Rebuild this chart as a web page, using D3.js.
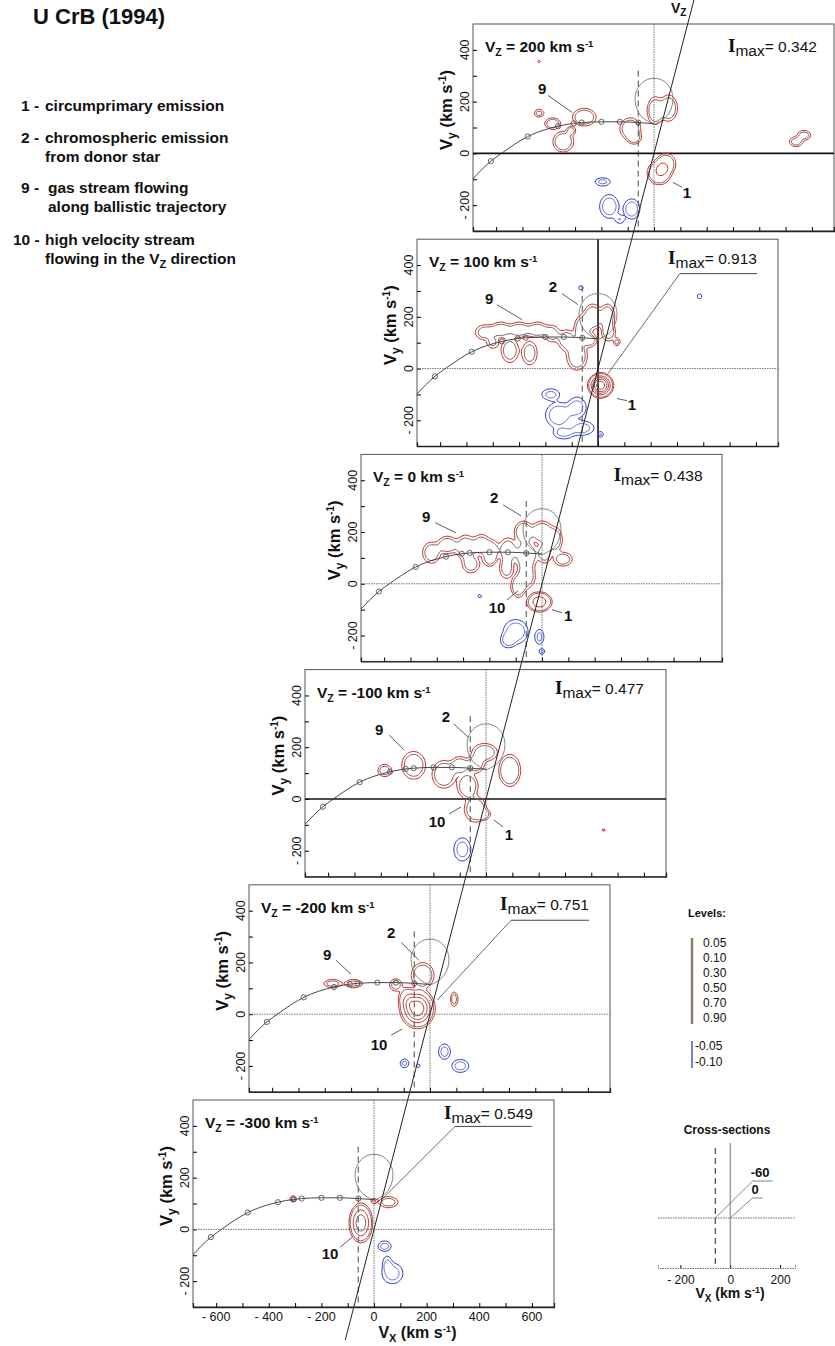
<!DOCTYPE html>
<html>
<head>
<meta charset="utf-8">
<script src="https://cdn.jsdelivr.net/npm/d3@7"></script>
<style>
body { margin: 0; background: #fff; }
svg text { font-family: "Liberation Sans", Arial, sans-serif; fill: #111; }
</style>
</head>
<body>
<svg id="fig" width="835" height="1346"></svg>
<script>
// one panel per Vz slice, top to bottom
var panelVz = ["200", "100", "0", "-100", "-200", "-300"];
var panelImax = ["0.342", "0.913", "0.438", "0.477", "0.751", "0.549"];

var xTickValues = [-600, -500, -400, -300, -200, -100, 0, 100, 200, 300, 400, 500, 600];
var xTickLabels = [-600, -400, -200, 0, 200, 400, 600];
var yTickValues = [-200, -100, 0, 100, 200, 300, 400];
var yTickLabels = [-200, 0, 200, 400];

// ballistic trajectory of the stream (km/s)
var streamVx = [-690, -620, -580, -480, -365, -305, -275, -200, -130, -60, 0];
var streamVy = [-100, -30, 0, 65, 105, 116, 119, 122, 122, 119, 115];
var streamDotsVx = [-620, -480, -365, -305, -275, -200, -130, -60];
var streamDotsVy = [-30, 65, 105, 116, 119, 122, 122, 119];

// donor Roche lobe outline
var lobeVx = [0, 30, 55, 68, 72, 66, 48, 24, 0, -24, -48, -66, -72, -68, -55, -30, 0];
var lobeVy = [112, 128, 152, 182, 212, 243, 270, 286, 290, 286, 270, 243, 212, 182, 152, 128, 112];

// cross-section positions (Vx)
var crossVx = [-60, 0];
var crossLabels = ["-60", "0"];

// contour levels
var redLevels = [0.05, 0.10, 0.30, 0.50, 0.70, 0.90];
var blueLevels = [0.05, 0.10];
var redLevelLabels = ["0.05", "0.10", "0.30", "0.50", "0.70", "0.90"];
var blueLevelLabels = ["-0.05", "-0.10"];

// emission sources: [vx, vy, sx, sy, peak]
var redBlobs = [
  [[5,165,22,38,0.2],[55,175,24,36,0.2],[20,-75,30,30,0.3],[45,-40,26,28,0.22],
   [-90,95,28,30,0.2],[-75,60,20,18,0.15],[-265,140,32,24,0.2],[-385,115,22,16,0.18],
   [-345,45,28,28,0.2],[-315,88,13,13,0.15],[-437,155,15,12,0.13],[-437,355,8,8,0.07],
   [540,45,20,14,0.15],[570,70,20,14,0.15]],
  [[-430,140,28,22,0.15],[-370,150,30,22,0.16],[-300,150,30,22,0.16],[-230,150,30,22,0.16],
   [-175,135,22,25,0.14],[-335,70,25,35,0.16],[-260,60,22,35,0.15],[-400,100,18,18,0.12],
   [-120,110,25,30,0.16],[-80,50,28,40,0.2],[-60,150,22,40,0.2],[-20,200,25,35,0.2],
   [35,200,20,35,0.2],[40,140,20,25,0.16],[-30,110,20,20,0.15],
   [72,103,10,12,0.13],[10,-65,27,27,1.0]],
  [[-420,120,25,30,0.17],[-360,150,28,25,0.17],[-290,140,28,35,0.18],[-230,150,25,30,0.17],
   [-270,75,25,25,0.15],[-190,130,20,30,0.15],[-200,95,20,22,0.13],
   [-130,130,25,35,0.17],[-70,200,25,30,0.2],[0,200,30,30,0.2],[50,170,20,35,0.17],
   [-60,110,30,40,0.2],[-60,30,25,35,0.18],[10,120,20,30,0.16],[-135,60,20,30,0.15],
   [-90,-10,20,30,0.2],[80,95,26,20,0.16],[-10,-70,30,24,0.4]],
  [[-385,110,20,18,0.15],[-275,130,32,38,0.2],[-160,95,32,38,0.2],
   [-100,130,25,25,0.17],[-40,135,25,25,0.17],[-70,50,28,35,0.2],[-40,-40,30,35,0.2],
   [-10,-60,20,15,0.15],[-5,180,35,25,0.18],[90,110,28,42,0.25],[447,-120,8,8,0.07]],
  [[-370,118,26,12,0.15],[-290,118,26,12,0.15],[-130,113,18,18,0.15],[-28,150,30,34,0.22],
   [-48,22,38,44,0.8],[-90,60,20,30,0.2],[92,58,10,22,0.15]],
  [[-308,118,10,10,0.13],[55,105,28,16,0.15],[-50,25,26,45,0.6],[0,110,9,9,0.13]]
];
var blueBlobs = [
  [[-195,-110,24,13,0.12],[-170,-205,28,35,0.15],[-85,-215,24,30,0.15],[-130,-255,15,14,0.1]],
  [[-65,312,8,8,0.1],[386,279,8,8,0.1],[-180,-100,28,18,0.12],[-150,-180,38,38,0.15],
   [-80,-150,28,32,0.13],[-60,-230,36,22,0.13],[-130,-250,32,18,0.12],[10,-255,9,9,0.12]],
  [[-237,-48,8,8,0.08],[-100,-185,36,36,0.15],[-130,-220,22,22,0.12],[-10,-205,14,24,0.12],
   [0,-262,9,9,0.12]],
  [[-90,-195,26,36,0.13]],
  [[55,-145,18,24,0.13],[115,-200,26,20,0.13],[-97,-190,14,14,0.12],[-45,-200,8,8,0.08]],
  [[40,-65,20,16,0.13],[70,-170,32,32,0.13],[50,-130,14,24,0.1]]
];

// feature numbers: [text, vx, vy, leader x1, y1, x2, y2]
var panelNotes = [
  [["9",-425,251,-403,224,-311,158], ["1",125,-150,72,-112,106,-131]],
  [["9",-414,270,-384,247,-289,189], ["2",-171,317,-137,290,-76,247], ["1",129,-139,72,-116,110,-124]],
  [["9",-440,259,-406,236,-327,197], ["2",-182,332,-148,305,-80,263], ["10",-171,-93,-133,-62,-91,-27], ["1",99,-124,38,-100,76,-112]],
  [["9",-406,270,-368,247,-311,189], ["2",-152,317,-122,290,-68,239], ["10",-186,-89,-141,-58,-95,-31], ["1",87,-139,30,-81,65,-108]],
  [["9",-391,232,-357,208,-300,154], ["2",-148,317,-110,278,-42,208], ["10",-194,-116,-148,-81,-106,-58]],
  [["10",-167,-93,-129,-69,-84,-31]]
];
// Imax text anchor (right end) and optional underline + leader: [u0, u1, uy, tx, ty]
var imaxAt = [[619,390],[604,405],[610,398],[600,405],[604,401],[604,428]];
var imaxLeader = [null, [311,604,367,38,-19], null, null, [308,604,363,27,54], [308,600,398,34,120]];

var legendItems = [
  ["1 -", "circumprimary emission", ""],
  ["2 -", "chromospheric emission", "from donor star"],
  ["9 -", "gas stream flowing", "along ballistic trajectory"],
  ["10 -", "high velocity stream", "flowing in the V"]
];

var svg = d3.select("#fig");
var W = 361, H = 207;
var hBold = [true, false, false, true, false, false];   // Vy = 0 drawn as heavy line
var vBold = [false, true, false, false, false, false];   // Vx = 0 drawn as heavy line
var red = "#d62a2a", grey = "#7a6961", blue = "#2f3fc8";
var levelColor = [red, grey, red, grey, red, grey];

// grid for the contour field
var step = 9, gx0 = -690, gy1 = 500;
var nx = Math.ceil(1380 / step) + 1, ny = Math.ceil(800 / step) + 1;

function field(blobs) {
  var v = new Float64Array(nx * ny);
  for (var j = 0; j < ny; j++) {
    var vy = gy1 - j * step;
    for (var i = 0; i < nx; i++) {
      var vx = gx0 + i * step, s = 0;
      blobs.forEach(function(b) {
        var q = (vx - b[0]) * (vx - b[0]) / (b[2] * b[2]) + (vy - b[1]) * (vy - b[1]) / (b[3] * b[3]);
        if (q < 40) s += b[4] * Math.exp(-0.5 * Math.pow(q, 1.5));
      });
      v[i + j * nx] = s;
    }
  }
  return v;
}

var origins = [];

function drawPanel(i) {
  var left = 473 - 56 * i, top = 24 + 215.2 * i;
  var x = d3.scaleLinear().domain([-688, 684]).range([left, left + W]);
  var y = d3.scaleLinear().domain([-300, 500]).range([top + H, top]);
  origins.push([x(0), y(0)]);
  var g = svg.append("g");

  g.append("clipPath").attr("id", "clip" + i)
    .append("rect").attr("x", left).attr("y", top).attr("width", W).attr("height", H);

  // frame
  g.append("rect").attr("x", left).attr("y", top).attr("width", W).attr("height", H)
    .attr("fill", "none").attr("stroke", "#555").attr("stroke-width", 1);

  var xAxis = d3.axisBottom(x).tickValues(xTickValues).tickSize(-4).tickFormat("");
  g.append("g").attr("transform", "translate(0," + (top + H) + ")").call(xAxis)
    .call(function(a) { a.select(".domain").attr("stroke", "#222").attr("stroke-width", 1.3); });
  var yAxis = d3.axisLeft(y).tickValues(yTickValues).tickSize(-4).tickFormat("");
  g.append("g").attr("transform", "translate(" + left + ",0)").call(yAxis)
    .call(function(a) { a.select(".domain").remove(); });

  // y tick labels, rotated
  g.selectAll(".ylab").data(yTickLabels).enter().append("text")
    .attr("transform", function(d) { return "translate(" + (left - 4.5) + "," + y(d) + ") rotate(-90)"; })
    .attr("text-anchor", "middle").attr("font-size", 12.5).attr("fill", "#222")
    .text(function(d) { return d < 0 ? "- " + (-d) : d; });

  var yt = g.append("text")
    .attr("transform", "translate(" + (left - 21) + "," + (top + 86) + ") rotate(-90)")
    .attr("text-anchor", "middle").attr("font-size", 16.5).attr("font-weight", "bold");
  yt.append("tspan").text("V");
  yt.append("tspan").attr("font-size", 12).attr("dy", 4).text("y");
  yt.append("tspan").attr("dy", -4).text("  (km s");
  yt.append("tspan").attr("font-size", 10).attr("dy", -6).text("-1");
  yt.append("tspan").attr("dy", 6).text(")");

  var plot = g.append("g").attr("clip-path", "url(#clip" + i + ")");

  // zero lines
  plot.append("line").attr("x1", left).attr("x2", left + W).attr("y1", y(0)).attr("y2", y(0))
    .attr("stroke", hBold[i] ? "#111" : "#666").attr("stroke-width", hBold[i] ? 1.6 : 0.9)
    .attr("stroke-dasharray", hBold[i] ? null : "1.5,1");
  plot.append("line").attr("y1", top).attr("y2", top + H).attr("x1", x(0)).attr("x2", x(0))
    .attr("stroke", vBold[i] ? "#111" : "#666").attr("stroke-width", vBold[i] ? 1.6 : 0.9)
    .attr("stroke-dasharray", vBold[i] ? null : "1.5,1");

  // cross-section at Vx = -60
  plot.append("line").attr("x1", x(crossVx[0])).attr("x2", x(crossVx[0]))
    .attr("y1", y(320)).attr("y2", y(-300))
    .attr("stroke", "#333").attr("stroke-width", 0.9).attr("stroke-dasharray", "6,4");

  // Roche lobe
  var lobe = d3.line().x(function(d) { return x(d[0]); }).y(function(d) { return y(d[1]); })
    .curve(d3.curveCatmullRom);
  plot.append("path").datum(d3.zip(lobeVx, lobeVy)).attr("d", lobe)
    .attr("fill", "none").attr("stroke", "#777").attr("stroke-width", 0.9);

  // contours
  var proj = d3.geoTransform({ point: function(px, py) {
    this.stream.point(x(gx0 + (px - 0.5) * step), y(gy1 - (py - 0.5) * step));
  }});
  var path = d3.geoPath(proj);
  var rc = d3.contours().size([nx, ny]).thresholds(redLevels)(field(redBlobs[i]));
  plot.selectAll(".rc").data(rc).enter().append("path")
    .attr("d", path).attr("fill", "none")
    .attr("stroke", function(d, k) { return levelColor[k]; }).attr("stroke-width", 1);
  var bc = d3.contours().size([nx, ny]).thresholds(blueLevels)(field(blueBlobs[i]));
  plot.selectAll(".bc").data(bc).enter().append("path")
    .attr("d", path).attr("fill", "none")
    .attr("stroke", function(d, k) { return k ? "#6a76d6" : blue; }).attr("stroke-width", 1);

  // ballistic trajectory
  var traj = d3.line().x(function(d) { return x(d[0]); }).y(function(d) { return y(d[1]); })
    .curve(d3.curveMonotoneX);
  plot.append("path").datum(d3.zip(streamVx, streamVy)).attr("d", traj)
    .attr("fill", "none").attr("stroke", "#333").attr("stroke-width", 0.9);
  plot.selectAll(".sd").data(d3.zip(streamDotsVx, streamDotsVy)).enter().append("circle")
    .attr("cx", function(d) { return x(d[0]); }).attr("cy", function(d) { return y(d[1]); })
    .attr("r", 2.6).attr("fill", "none").attr("stroke", "#555").attr("stroke-width", 0.9);

  // feature labels with leaders
  panelNotes[i].forEach(function(n) {
    g.append("line").attr("x1", x(n[3])).attr("y1", y(n[4])).attr("x2", x(n[5])).attr("y2", y(n[6]))
      .attr("stroke", "#333").attr("stroke-width", 0.8);
    g.append("text").attr("x", x(n[1])).attr("y", y(n[2])).attr("dy", "0.36em")
      .attr("text-anchor", "middle").attr("font-size", 15).attr("font-weight", "bold").text(n[0]);
  });

  // Vz label
  var vz = g.append("text").attr("x", left + 12).attr("y", top + 28)
    .attr("font-size", 15.5).attr("font-weight", "bold");
  vz.append("tspan").text("V");
  vz.append("tspan").attr("font-size", 10.5).attr("dy", 4).text("Z");
  vz.append("tspan").attr("dy", -4).text(" = " + panelVz[i] + " km s");
  vz.append("tspan").attr("font-size", 9.5).attr("dy", -5).text("-1");

  // Imax
  var im = g.append("text").attr("x", x(imaxAt[i][0])).attr("y", y(imaxAt[i][1]))
    .attr("text-anchor", "end").attr("font-size", 15.5);
  im.append("tspan").attr("font-family", "Liberation Serif, Times New Roman, serif")
    .attr("font-weight", "bold").attr("font-size", 19).text("I");
  im.append("tspan").attr("dy", 4).text("max");
  im.append("tspan").attr("dy", -4).text("= " + panelImax[i]);
  if (imaxLeader[i]) {
    var L = imaxLeader[i];
    g.append("line").attr("x1", x(L[0])).attr("x2", x(L[1])).attr("y1", y(L[2])).attr("y2", y(L[2]))
      .attr("stroke", "#444").attr("stroke-width", 1);
    g.append("line").attr("x1", x(L[0])).attr("y1", y(L[2])).attr("x2", x(L[3])).attr("y2", y(L[4]))
      .attr("stroke", "#444").attr("stroke-width", 0.8);
  }

  // x tick labels only on the lowest map
  if (i === panelVz.length - 1) {
    g.selectAll(".xlab").data(xTickLabels).enter().append("text")
      .attr("x", function(d) { return x(d); }).attr("y", top + H + 14)
      .attr("text-anchor", "middle").attr("font-size", 12.5).attr("fill", "#222")
      .text(function(d) { return d < 0 ? "- " + (-d) : d; });
    var xt = g.append("text").attr("x", x(165)).attr("y", top + H + 31)
      .attr("text-anchor", "middle").attr("font-size", 16).attr("font-weight", "bold");
    xt.append("tspan").text("V");
    xt.append("tspan").attr("font-size", 11).attr("dy", 4).text("X");
    xt.append("tspan").attr("dy", -4).text("  (km s");
    xt.append("tspan").attr("font-size", 9.5).attr("dy", -6).text("-1");
    xt.append("tspan").attr("dy", 6).text(")");
  }
}

for (var p = 0; p < panelVz.length; p++) drawPanel(p);

// the Vz axis through all origins
var oa = origins[0], ob = origins[origins.length - 1];
var slope = (oa[0] - ob[0]) / (oa[1] - ob[1]);
svg.append("line")
  .attr("x1", ob[0] + (1340 - ob[1]) * slope).attr("y1", 1340)
  .attr("x2", oa[0] + (-2 - oa[1]) * slope).attr("y2", -2)
  .attr("stroke", "#222").attr("stroke-width", 1);
var vzl = svg.append("text").attr("x", 671).attr("y", 13).attr("font-size", 14).attr("font-weight", "bold");
vzl.append("tspan").text("V");
vzl.append("tspan").attr("font-size", 10).attr("dy", 3).text("Z");

// title and feature key
svg.append("text").attr("x", 33).attr("y", 24).attr("font-size", 22).attr("font-weight", "bold")
  .text("U CrB (1994)");
var keyY = [111, 143, 193, 245];
legendItems.forEach(function(d, k) {
  svg.append("text").attr("x", k === 3 ? 13 : 21).attr("y", keyY[k])
    .attr("font-size", 15.5).attr("font-weight", "bold").text(d[0]);
  svg.append("text").attr("x", k === 2 ? 48 : 45).attr("y", keyY[k])
    .attr("font-size", 15.5).attr("font-weight", "bold").text(d[1]);
  if (d[2]) {
    var t = svg.append("text").attr("x", k === 2 ? 48 : 45).attr("y", keyY[k] + 19)
      .attr("font-size", 15.5).attr("font-weight", "bold").text(d[2]);
    if (k === 3) {
      t.append("tspan").attr("font-size", 11).attr("dy", 4).text("Z");
      t.append("tspan").attr("dy", -4).text(" direction");
    }
  }
});

// contour level key
svg.append("text").attr("x", 707).attr("y", 917).attr("text-anchor", "middle")
  .attr("font-size", 11).attr("font-weight", "bold").text("Levels:");
svg.append("line").attr("x1", 692).attr("x2", 692).attr("y1", 938).attr("y2", 1024)
  .attr("stroke", "#8a7b70").attr("stroke-width", 2.5);
svg.selectAll(".rl").data(redLevelLabels).enter().append("text")
  .attr("x", 703).attr("y", function(d, k) { return 947 + k * 15; })
  .attr("font-size", 12).attr("fill", "#333").text(function(d) { return d; });
svg.append("line").attr("x1", 692).attr("x2", 692).attr("y1", 1041).attr("y2", 1068)
  .attr("stroke", blue).attr("stroke-width", 1.3);
svg.selectAll(".bl").data(blueLevelLabels).enter().append("text")
  .attr("x", 695).attr("y", function(d, k) { return 1050 + k * 16; })
  .attr("font-size", 12).attr("fill", "#222").text(function(d) { return d; });

// cross-section key
var cx = d3.scaleLinear().domain([-290, 260]).range([658, 795]);
var cy = d3.scaleLinear().domain([-200, 310]).range([1268, 1140.5]);
svg.append("text").attr("x", 727).attr("y", 1134).attr("text-anchor", "middle")
  .attr("font-size", 12).attr("font-weight", "bold").text("Cross-sections");
svg.append("g").attr("transform", "translate(0," + cy(-200) + ")")
  .call(d3.axisBottom(cx).tickValues([-200, 0, 200]).tickSize(-3).tickFormat(function(d) { return d < 0 ? "- " + (-d) : d; }))
  .call(function(a) {
    a.select(".domain").attr("stroke", "#666").attr("stroke-dasharray", "1.5,1");
    a.selectAll("text").attr("font-size", 12).attr("fill", "#222").attr("dy", "1.1em");
  });
svg.append("line").attr("x1", cx(-290)).attr("x2", cx(260)).attr("y1", cy(0)).attr("y2", cy(0))
  .attr("stroke", "#666").attr("stroke-dasharray", "1.5,1");
svg.append("line").attr("x1", cx(crossVx[1])).attr("x2", cx(crossVx[1])).attr("y1", cy(300)).attr("y2", cy(-200))
  .attr("stroke", "#666").attr("stroke-width", 0.9);
svg.append("line").attr("x1", cx(crossVx[0])).attr("x2", cx(crossVx[0])).attr("y1", cy(280)).attr("y2", cy(-196))
  .attr("stroke", "#222").attr("stroke-width", 1).attr("stroke-dasharray", "6,4");
var crossTag = [[90, 148, 170, 120], [90, 80, 130, 100]];   // underline start, y, end, label x
crossVx.forEach(function(v, k) {
  var c = crossTag[k];
  svg.append("line").attr("x1", cx(v)).attr("y1", cy(0)).attr("x2", cx(c[0])).attr("y2", cy(c[1]))
    .attr("stroke", "#666").attr("stroke-width", 0.8);
  svg.append("line").attr("x1", cx(c[0])).attr("x2", cx(c[2])).attr("y1", cy(c[1])).attr("y2", cy(c[1]))
    .attr("stroke", "#666").attr("stroke-width", 0.8);
  svg.append("text").attr("x", cx(c[3])).attr("y", cy(c[1]) - 4).attr("text-anchor", "middle")
    .attr("font-size", 13).attr("font-weight", "bold").text(crossLabels[k]);
});
var cxt = svg.append("text").attr("x", 730).attr("y", 1298).attr("text-anchor", "middle")
  .attr("font-size", 14).attr("font-weight", "bold");
cxt.append("tspan").text("V");
cxt.append("tspan").attr("font-size", 10).attr("dy", 4).text("X");
cxt.append("tspan").attr("dy", -4).text("  (km s");
cxt.append("tspan").attr("font-size", 9).attr("dy", -5).text("-1");
cxt.append("tspan").attr("dy", 5).text(")");
</script>
</body>
</html>
